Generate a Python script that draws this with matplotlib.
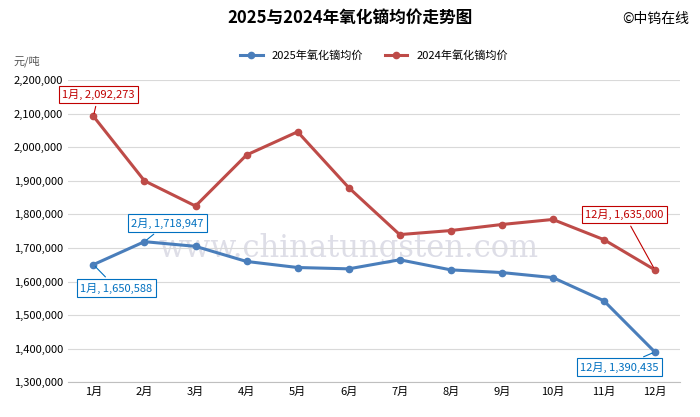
import matplotlib
matplotlib.use("Agg")
import matplotlib.pyplot as plt
from matplotlib.ticker import FuncFormatter

plt.rcParams['font.family'] = ['Noto Sans CJK SC', 'DejaVu Sans']

months = ['1月', '2月', '3月', '4月', '5月', '6月', '7月', '8月', '9月', '10月', '11月', '12月']
price_2025 = [1650588, 1718947, 1705000, 1660000, 1642000, 1638000, 1665000, 1635000, 1627000, 1612000, 1543000, 1390435]
price_2024 = [2092273, 1900000, 1825000, 1977000, 2046000, 1880000, 1740000, 1752000, 1770000, 1785000, 1725000, 1635000]

blue = '#4a7ebb'
red = '#be4b48'

fig = plt.figure(figsize=(7, 4.17), dpi=100)
ax = fig.add_axes([0.097, 0.083, 0.875, 0.725])
x = range(len(months))
ax.plot(x, price_2025, color=blue, lw=2.2, marker='o', ms=4.5, label='2025年氧化镝均价')
ax.plot(x, price_2024, color=red, lw=2.2, marker='o', ms=4.5, label='2024年氧化镝均价')

ax.set_ylim(1300000, 2200000)
ax.set_yticks(range(1300000, 2200001, 100000))
ax.yaxis.set_major_formatter(FuncFormatter(lambda v, p: f'{int(v):,}'))
ax.set_xlim(-0.5, 11.5)
ax.set_xticks(list(x))
ax.set_xticklabels(months)
ax.tick_params(labelsize=8, length=0)
ax.grid(axis='y', color='#d9d9d9', lw=0.8)
ax.set_axisbelow(True)
for s in ['top', 'right', 'left']:
    ax.spines[s].set_visible(False)
ax.spines['bottom'].set_color('#bfbfbf')

ax.text(5, 1700000, 'www.chinatungsten.com', fontsize=22, color='#c8c8d8', alpha=0.6,
        ha='center', va='center', family='DejaVu Serif', zorder=0)

def label(i, vals, color, dx, dy):
    ax.annotate(f'{months[i]}, {vals[i]:,}', xy=(i, vals[i]), xytext=(i + dx, vals[i] + dy),
                fontsize=8, color=color, ha='center', va='center',
                bbox=dict(boxstyle='square,pad=0.3', fc='white', ec=color, lw=0.8),
                arrowprops=dict(arrowstyle='-', color=color, lw=0.8))

label(0, price_2024, '#c00000', 0.1, 65000)
label(11, price_2024, '#c00000', -0.6, 165000)
label(0, price_2025, '#0070c0', 0.45, -70000)
label(1, price_2025, '#0070c0', 0.45, 55000)
label(11, price_2025, '#0070c0', -0.7, -45000)

fig.text(0.5, 0.945, '2025与2024年氧化镝均价走势图', ha='center', fontsize=12, weight='bold')
fig.text(0.985, 0.945, '©中钨在线', ha='right', fontsize=10)
fig.text(0.02, 0.845, '元/吨', fontsize=8, color='#555555')
ax.legend(loc='lower center', bbox_to_anchor=(0.5, 1.03), ncol=2, frameon=False, fontsize=8)

fig.savefig('out.png', dpi=100)
